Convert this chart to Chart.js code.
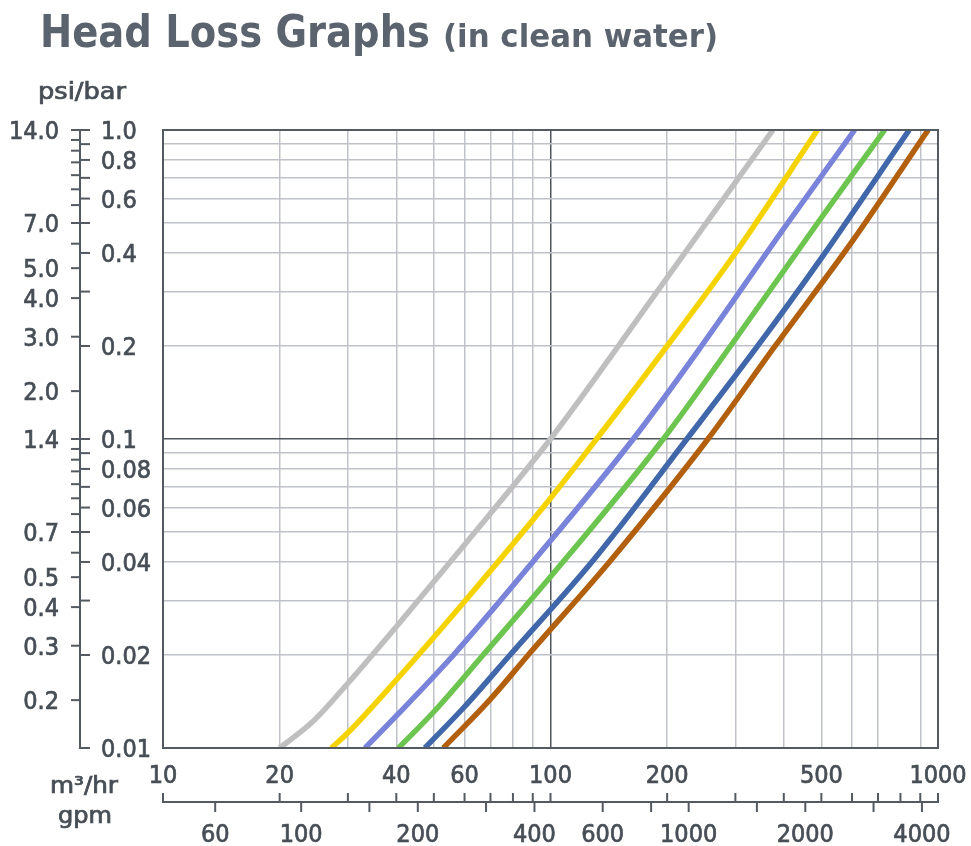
<!DOCTYPE html>
<html><head><meta charset="utf-8">
<script src="https://cdn.jsdelivr.net/npm/chart.js@4.4.1/dist/chart.umd.min.js"></script>
<style>html,body{margin:0;padding:0;background:#fff;}canvas{display:block;}</style>
</head><body>
<canvas id="c" width="971" height="846"></canvas>
<script>
// ---------------- data ----------------
const FLOW_GRID   = [10,20,30,40,50,60,70,80,90,100,200,300,400,500,600,700,800,900,1000];
const FLOW_LABELS = ['10','20','40','60','100','200','500','1000'];
const BAR_GRID    = [0.01,0.02,0.03,0.04,0.05,0.06,0.07,0.08,0.09,0.1,0.2,0.3,0.4,0.5,0.6,0.7,0.8,0.9,1.0];
const BAR_LABELS  = ['1.0','0.8','0.6','0.4','0.2','0.1','0.08','0.06','0.04','0.02','0.01'];
const PSI_TICKS   = [14,13,12,11,10,9,8,7,6,5,4,3,2,1.4,1.3,1.2,1.1,1.0,0.9,0.8,0.7,0.6,0.5,0.4,0.3,0.2];
const PSI_LABELS  = ['14.0','7.0','5.0','4.0','3.0','2.0','1.4','0.7','0.5','0.4','0.3','0.2'];
const GPM_TICKS   = [60,100,150,200,300,400,600,800,1000,1500,2000,3000,4000];
const GPM_LABELS  = ['60','100','200','400','600','1000','2000','4000'];
const PSI_PER_BAR = 14;
const GPM_PER_M3H = 4.4;

const FLOW_GRAY   = [20, 24.4, 30, 40, 60, 100, 200, 375];
const HEAD_GRAY   = [0.01, 0.0122, 0.0162, 0.0247, 0.0455, 0.1, 0.333, 1.0];
const FLOW_YELLOW = [27.2, 30, 40, 60, 100, 131.5, 200, 300, 488.6];
const HEAD_YELLOW = [0.01, 0.0112, 0.0166, 0.0298, 0.0643, 0.1, 0.2, 0.4, 1.0];
const FLOW_VIOLET = [33.2, 40, 56.2, 90, 163.5, 245.3, 400, 609.4];
const HEAD_VIOLET = [0.01, 0.0127, 0.02, 0.04, 0.1, 0.2, 0.48, 1.0];
const FLOW_GREEN  = [40.5, 50, 67, 100, 195.5, 291.5, 500, 728.3];
const HEAD_GREEN  = [0.01, 0.0131, 0.02, 0.0358, 0.1, 0.2, 0.52, 1.0];
const FLOW_BLUE   = [47.4, 60, 78.6, 129.1, 224.9, 342.5, 500, 842.7];
const HEAD_BLUE   = [0.01, 0.0136, 0.02, 0.0406, 0.1, 0.2, 0.385, 1.0];
const FLOW_BROWN  = [52.9, 70, 87.6, 143.3, 254.9, 380, 600, 943];
const HEAD_BROWN  = [0.01, 0.0144, 0.02, 0.0406, 0.1, 0.2, 0.435, 1.0];

// ---------------- styles ----------------
const FONT = '"DejaVu Sans Condensed", "Liberation Sans Narrow", "DejaVu Sans", sans-serif';
const TEXT = '#474e56';
const TITLE = '#5b646e';
const FRAME = '#535a62';
const GRID_LIGHT = '#bfc2c8';
const GRID_DARK = '#4f555d';

function pts(xs, ys){ return xs.map((q,i)=>({x:q, y:ys[i]})); }
function ds(xs, ys, color){
  return {data: pts(xs, ys), borderColor: color, borderWidth: 5.5, pointRadius: 0,
          cubicInterpolationMode: 'monotone', fill: false, clip: 0};
}

function textAt(ctx, t, x, y, align, size, weight, fitW, stroke){
  ctx.save();
  ctx.font = (weight||'normal') + ' ' + size + 'px ' + FONT;
  ctx.textBaseline = 'alphabetic';
  ctx.textAlign = align;
  ctx.translate(x, y);
  if (fitW){ const w = ctx.measureText(t).width; ctx.scale(fitW / w, 1); }
  ctx.fillText(t, 0, 0);
  if (stroke){ ctx.strokeStyle = ctx.fillStyle; ctx.lineWidth = stroke; ctx.strokeText(t, 0, 0); }
  ctx.restore();
}
function seg(ctx, x1, y1, x2, y2){ ctx.beginPath(); ctx.moveTo(x1,y1); ctx.lineTo(x2,y2); ctx.stroke(); }

const axesPlugin = {
  id: 'dualAxes',
  afterDraw(chart){
    const {ctx, chartArea: a, scales: {x, y}} = chart;
    ctx.save();
    // plot frame
    ctx.strokeStyle = FRAME; ctx.lineWidth = 2;
    ctx.strokeRect(a.left, a.top, a.right - a.left, a.bottom - a.top);

    ctx.strokeStyle = FRAME; ctx.fillStyle = TEXT; ctx.lineWidth = 2;
    // ---- left bar / psi axis ----
    const AX = 80;
    seg(ctx, AX, y.getPixelForValue(1), AX, y.getPixelForValue(0.01));
    BAR_GRID.forEach(v => { const py = y.getPixelForValue(v); seg(ctx, AX - 1, py, AX + 10, py); });
    PSI_TICKS.forEach(p => { const py = y.getPixelForValue(p / PSI_PER_BAR); seg(ctx, AX - 9, py, AX + 1, py); });
    const NS = 25, CAP = 0.365 * NS, SW = 0.7;
    BAR_LABELS.forEach(t => { const py = y.getPixelForValue(parseFloat(t)); textAt(ctx, t, 101, py + CAP, 'left', NS, 'normal', 0, SW); });
    PSI_LABELS.forEach(t => { const py = y.getPixelForValue(parseFloat(t) / PSI_PER_BAR); textAt(ctx, t, 59, py + CAP, 'right', NS, 'normal', 0, SW); });
    textAt(ctx, 'psi/bar', 38, 99, 'left', 23, 'normal', 88, SW);

    // ---- bottom m3/hr / gpm axis ----
    const BY = 802;
    seg(ctx, x.getPixelForValue(10), BY, x.getPixelForValue(1000) + 1, BY);
    FLOW_GRID.forEach(v => { const px = x.getPixelForValue(v); seg(ctx, px, BY - 9, px, BY + 1); });
    GPM_TICKS.forEach(g => { const px = x.getPixelForValue(g / GPM_PER_M3H); seg(ctx, px, BY - 1, px, BY + 10); });
    FLOW_LABELS.forEach(t => { const px = x.getPixelForValue(parseFloat(t)); textAt(ctx, t, px, 774 + CAP, 'center', NS, 'normal', 0, SW); });
    GPM_LABELS.forEach(t => { const px = x.getPixelForValue(parseFloat(t) / GPM_PER_M3H); textAt(ctx, t, px, 833 + CAP, 'center', NS, 'normal', 0, SW); });
    textAt(ctx, 'm³/hr', 50, 793, 'left', 23, 'normal', 68, SW);
    textAt(ctx, 'gpm', 58, 823, 'left', 23, 'normal', 54, SW);

    // ---- title ----
    ctx.fillStyle = TITLE;
    textAt(ctx, 'Head Loss Graphs', 40, 47, 'left', 45, 'bold', 390);
    textAt(ctx, '(in clean water)', 443, 47, 'left', 32, 'bold', 275);
    ctx.restore();
  }
};

function gridColor(ctx, darkVal){
  const v = ctx.tick && ctx.tick.value;
  if (v === undefined) return GRID_LIGHT;
  if (Math.abs(v - darkVal) < 1e-9) return GRID_DARK;
  return GRID_LIGHT;
}

new Chart(document.getElementById('c'), {
  type: 'line',
  data: {
    datasets: [
      ds(FLOW_GRAY, HEAD_GRAY, '#bfbfbf'),
      ds(FLOW_YELLOW, HEAD_YELLOW, '#f5d300'),
      ds(FLOW_VIOLET, HEAD_VIOLET, '#7983da'),
      ds(FLOW_GREEN, HEAD_GREEN, '#6cc54e'),
      ds(FLOW_BLUE, HEAD_BLUE, '#3f67aa'),
      ds(FLOW_BROWN, HEAD_BROWN, '#b25f0e')
    ]
  },
  options: {
    responsive: false, animation: false, devicePixelRatio: 1,
    layout: {padding: {top: 130, right: 33, left: 0, bottom: 0}},
    plugins: {legend: {display: false}, title: {display: false}, tooltip: {enabled: false}},
    scales: {
      x: {
        type: 'logarithmic', min: 10, max: 1000,
        afterBuildTicks: s => { s.ticks = FLOW_GRID.map(v => ({value: v})); },
        afterFit: s => { s.height = 98; },
        ticks: {display: false},
        border: {display: false},
        grid: {drawTicks: false, lineWidth: 1.5,
               color: c => (c.tick && c.tick.value === 800) ? 'rgba(0,0,0,0)' : gridColor(c, 100)}
      },
      y: {
        type: 'logarithmic', min: 0.01, max: 1,
        afterBuildTicks: s => { s.ticks = BAR_GRID.map(v => ({value: v})); },
        afterFit: s => { s.width = 163; },
        ticks: {display: false},
        border: {display: false},
        grid: {drawTicks: false, lineWidth: 1.5, color: c => gridColor(c, 0.1)}
      }
    }
  },
  plugins: [axesPlugin]
});
</script>
</body></html>
